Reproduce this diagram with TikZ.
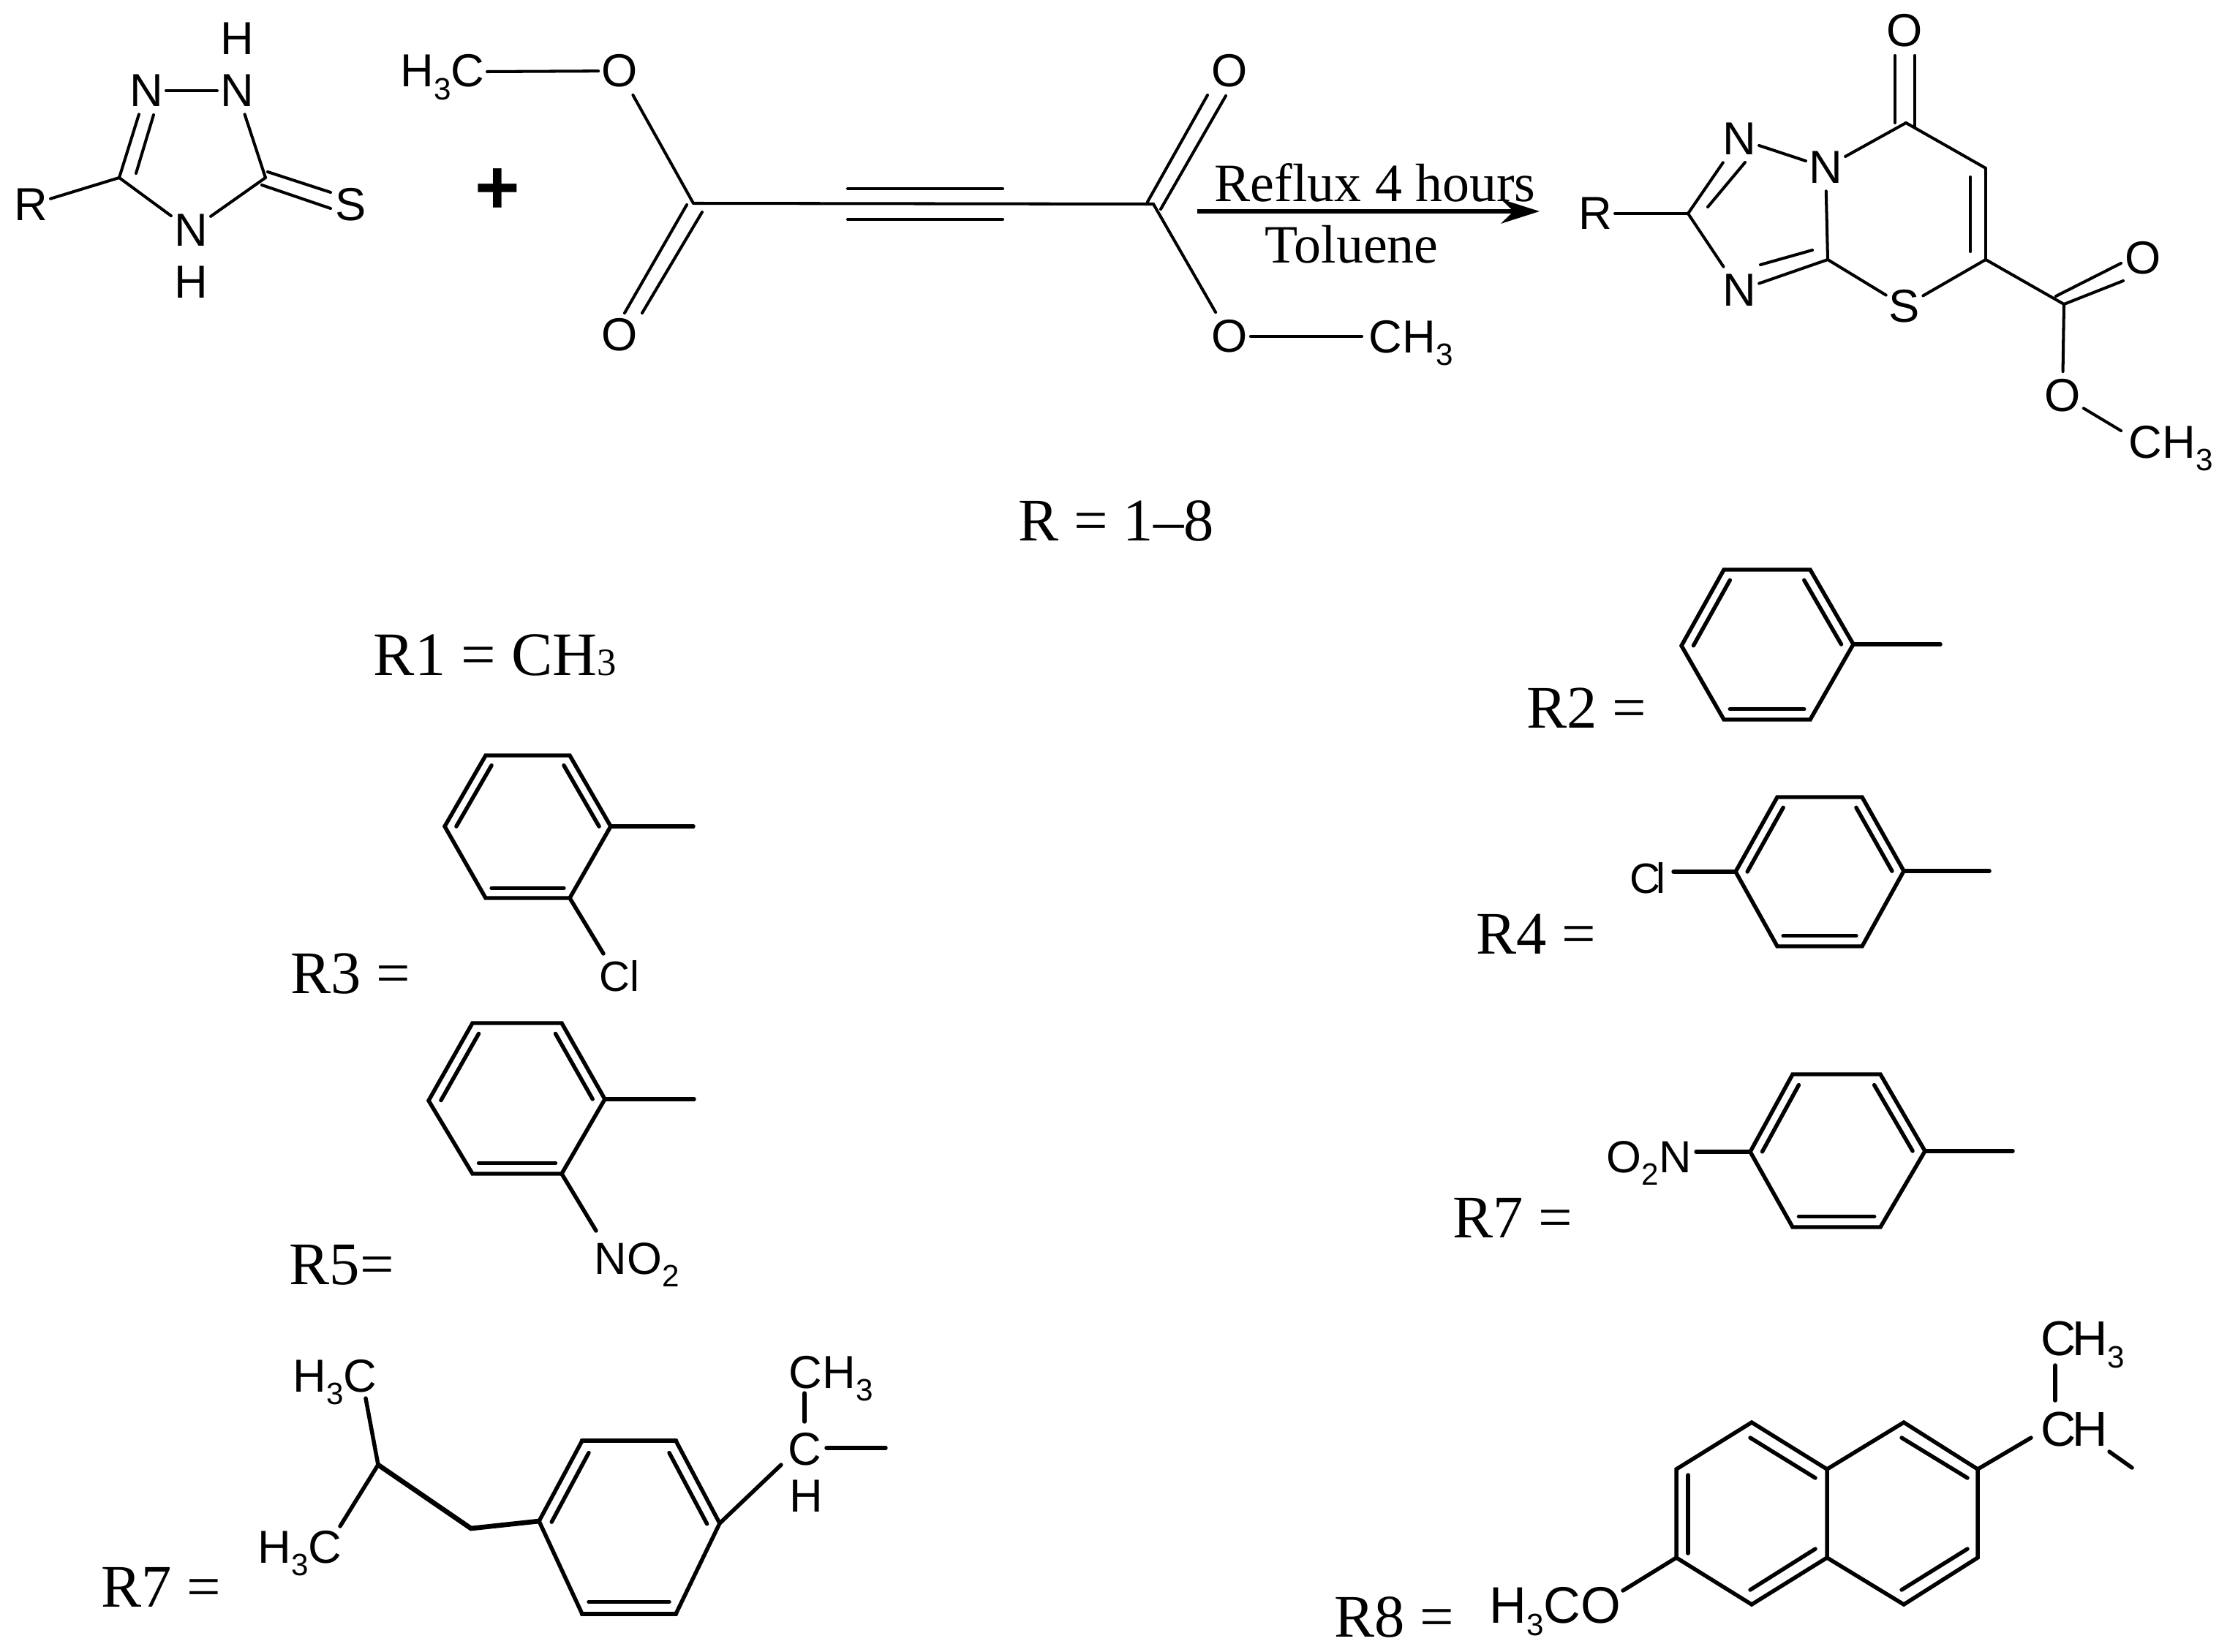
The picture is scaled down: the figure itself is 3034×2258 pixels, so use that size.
\documentclass[tikz,border=0pt]{standalone}
\usepackage{fontspec}
\setmainfont{Liberation Serif}
\newfontfamily\chem{Liberation Sans}
\usetikzlibrary{calc,arrows.meta}
\newcommand\vx[2]{\coordinate (#1) at (#2);}
\newcommand\sbs[2][12]{\raisebox{-5pt}{\fontsize{#1}{#1}\selectfont #2}}
\tikzset{
  bondt/.style={line width=1.15pt,line cap=round,draw=black},
  bondb/.style={line width=1.55pt,line cap=round,line join=miter,draw=black},
  bondx/.style={line width=1.9pt,line cap=round,line join=miter,draw=black},
  atomt/.style={font=\chem\fontsize{18}{18}\selectfont,inner xsep=1pt,inner ysep=2.8pt},
  grp/.style={font=\chem\fontsize{18}{18}\selectfont,inner sep=0pt,anchor=base west},
  grpb/.style={font=\chem\fontsize{17.5}{17.5}\selectfont,inner sep=0pt,anchor=base west},
  rlab/.style={font=\fontsize{23.5}{23.5}\selectfont,inner sep=0pt,anchor=base west},
  cond/.style={font=\fontsize{21}{21}\selectfont,inner sep=0pt,anchor=base},
}
% ring: top-left, top-right, right, bottom-right, bottom-left, left
\newcommand\benz[7]{%
  \vx{#1a}{#2}\vx{#1b}{#3}\vx{#1c}{#4}\vx{#1d}{#5}\vx{#1e}{#6}\vx{#1f}{#7}
  \coordinate (#1o) at ($(#1a)!.5!(#1d)$);
  \draw[bondb] (#1a) -- (#1b) -- (#1c) -- (#1d) -- (#1e) -- (#1f) -- cycle;
  \draw[bondb] ($(#1a)!.14!(#1o)$) -- ($(#1f)!.14!(#1o)$);
  \draw[bondb] ($(#1b)!.14!(#1o)$) -- ($(#1c)!.14!(#1o)$);
  \draw[bondb] ($(#1d)!.14!(#1o)$) -- ($(#1e)!.14!(#1o)$);
}
\begin{document}
\begin{tikzpicture}[x=0.01cm,y=-0.01cm]
\useasboundingbox (0,0) rectangle (3034,2258);

% ---------- triazole thione
\node[atomt] (tn1) at (200,124) {N};
\node[atomt] (tn2) at (324,124) {N};
\node[atomt] (th1) at (324,53) {H};
\node[atomt] (tn3) at (261,315) {N};
\node[atomt] (th2) at (261,386) {H};
\node[atomt] (tr) at (42,280) {R};
\node[atomt] (ts) at (480,280) {S};
\vx{tc1}{163,243}\vx{tc2}{363,243}
\draw[bondt] (tn1) -- (tn2);
\draw[bondt] (tr) -- (tc1);
\draw[bondt] (tc1) -- (tn1);
\vx{ti1}{186,237}\vx{ti2}{210,157}
\draw[bondt] (ti1) -- (ti2);
\draw[bondt] (tn2) -- (tc2);
\draw[bondt] (tc1) -- (tn3);
\draw[bondt] (tc2) -- (tn3);
\vx{ts1}{366,235}\vx{ts2}{452,263}\vx{ts3}{358,253}\vx{ts4}{452,285}
\draw[bondt] (ts1) -- (ts2);
\draw[bondt] (ts3) -- (ts4);

\node[inner sep=0pt,font=\chem\bfseries\fontsize{30}{30}\selectfont] (plus) at (680,262) {+};

% ---------- dimethyl acetylenedicarboxylate
\node[grp] (dh3c) at (547,119) {H\sbs{3}C};
\vx{dm1}{666,98}
\node[atomt] (do1) at (847,97) {O};
\draw[bondt] (dm1) -- (do1);
\vx{dc1}{948,278}
\draw[bondt] (do1) -- (dc1);
\node[atomt] (do2) at (847,458) {O};
\vx{dd1}{939,280}\vx{dd2}{854,428}\vx{dd3}{960,290}\vx{dd4}{878,428}
\draw[bondt] (dd1) -- (dd2);
\draw[bondt] (dd3) -- (dd4);
\vx{dc2}{1577,279}
\draw[bondt] (dc1) -- (dc2);
\vx{dt1}{1159,258}\vx{dt2}{1371,258}\vx{dt3}{1159,300}\vx{dt4}{1371,300}
\draw[bondt] (dt1) -- (dt2);
\draw[bondt] (dt3) -- (dt4);
\node[atomt] (do3) at (1681,97) {O};
\vx{dd5}{1569,276}\vx{dd6}{1651,130}\vx{dd7}{1587,286}\vx{dd8}{1676,131}
\draw[bondt] (dd5) -- (dd6);
\draw[bondt] (dd7) -- (dd8);
\node[atomt] (do4) at (1681,460) {O};
\draw[bondt] (dc2) -- (do4);
\vx{dm2}{1862,460}
\draw[bondt] (do4) -- (dm2);
\node[grp] (dch3) at (1871,482) {CH\sbs{3}};

% ---------- arrow
\vx{arw1}{1637,289}\vx{arw2}{2105,289}
\draw[line width=1.5pt,-{Stealth[length=15pt,width=9.5pt]}] (arw1) -- (arw2);
\node[cond] (reflux) at (1880,276) {Reflux 4 hours};
\node[cond] (toluene) at (1848,360) {Toluene};

% ---------- product
\node[atomt] (po1) at (2604,42) {O};
\node[atomt] (pn1) at (2496,229) {N};
\node[atomt] (pn2) at (2378,190) {N};
\node[atomt] (pn3) at (2378,397) {N};
\node[atomt] (pr) at (2181,292) {R};
\node[atomt] (ps) at (2604,419) {S};
\node[atomt] (po2) at (2930,353) {O};
\node[atomt] (po3) at (2820,541) {O};
\node[grp] (pch3) at (2910,626) {CH\sbs{3}};
\vx{pc2}{2308,292}\vx{pc7}{2606,168}\vx{pc6}{2715,230}\vx{pc5}{2715,355}\vx{pc4}{2499,355}\vx{pc9}{2822,416}
\draw[bondt] (pr) -- (pc2);
\vx{pd1}{2591,76}\vx{pd2}{2591,168}\vx{pd3}{2618,76}\vx{pd4}{2618,175}
\draw[bondt] (pd1) -- (pd2);
\draw[bondt] (pd3) -- (pd4);
\draw[bondt] (pc2) -- (pn2);
\vx{pi1}{2335,283}\vx{pi2}{2386,222}
\draw[bondt] (pi1) -- (pi2);
\draw[bondt] (pn2) -- (pn1);
\draw[bondt] (pn1) -- (pc7);
\draw[bondt] (pc7) -- (pc6);
\draw[bondt] (pc6) -- (pc5);
\vx{pi3}{2694,242}\vx{pi4}{2694,344}
\draw[bondt] (pi3) -- (pi4);
\draw[bondt] (pc5) -- (ps);
\draw[bondt] (ps) -- (pc4);
\draw[bondt] (pc4) -- (pn1);
\draw[bondt] (pc4) -- (pn3);
\vx{pi5}{2478,342}\vx{pi6}{2407,362}
\draw[bondt] (pi5) -- (pi6);
\draw[bondt] (pc2) -- (pn3);
\draw[bondt] (pc5) -- (pc9);
\vx{pe1}{2822,416}\vx{pe2}{2903,384}\vx{pe3}{2811,405}\vx{pe4}{2900,360}
\draw[bondt] (pe1) -- (pe2);
\draw[bondt] (pe3) -- (pe4);
\draw[bondt] (pc9) -- (po3);
\vx{pm}{2900,589}
\draw[bondt] (po3) -- (pm);

% ---------- labels
\node[rlab] (rall) at (1392,739) {R = 1–8};
\node[rlab,font=\fontsize{24}{24}\selectfont] (r1) at (510,923) {R1 = CH{\fontsize{15}{15}\selectfont 3}};
\node[rlab] (r2) at (2087,995) {R2 =};
\node[rlab] (r3) at (397,1358) {R3 =};
\node[rlab] (r4) at (2018,1304) {R4 =};
\node[rlab] (r5) at (395,1756) {R5=};
\node[rlab] (r7a) at (1986,1692) {R7 =};
\node[rlab] (r7b) at (138,2197) {R7 =};
\node[rlab] (r8) at (1824,2238) {R8 =};

% ---------- R2
\benz{a}{2357,779}{2475,779}{2534,881}{2475,984}{2357,984}{2299,883}
\vx{at}{2653,881}
\draw[bondb] (ac) -- (at);

% ---------- R3
\benz{b}{664,1033}{779,1033}{835,1130}{779,1228}{664,1228}{608,1130}
\vx{bt}{948,1130}\vx{bx}{825,1304}
\draw[bondb] (bc) -- (bt);
\draw[bondb] (bd) -- (bx);
\node[grpb,font=\chem\fontsize{16.5}{16.5}\selectfont] (bcl) at (819,1355) {Cl};

% ---------- R4
\benz{c}{2430,1090}{2546,1090}{2603,1191}{2546,1294}{2430,1294}{2373,1192}
\vx{ct}{2720,1191}\vx{cx}{2288,1192}
\draw[bondb] (cc) -- (ct);
\draw[bondb] (cf) -- (cx);
\node[grpb,font=\chem\fontsize{16.5}{16.5}\selectfont] (ccl) at (2228,1221) {C\kern-.1em l};

% ---------- R5
\benz{d}{646,1399}{768,1399}{827,1503}{768,1605}{646,1605}{586,1505}
\vx{dzt}{949,1503}\vx{dzx}{815,1683}
\draw[bondb] (dc) -- (dzt);
\draw[bondb] (dd) -- (dzx);
\node[grpb] (dno) at (812,1742) {NO\sbs[12]{2}};

% ---------- R7 right
\benz{e}{2451,1469}{2571,1469}{2632,1574}{2571,1678}{2451,1678}{2393,1575}
\vx{et}{2752,1574}\vx{ex}{2319,1575}
\draw[bondb] (ec) -- (et);
\draw[bondb] (ef) -- (ex);
\node[grpb] (eno) at (2196,1603) {O\sbs[12]{2}N};

% ---------- R7 left (isobutylphenyl)
\benz{f}{796,1970}{924,1970}{984,2083}{924,2207}{796,2207}{737,2080}
\draw[bondx] (fa) -- (fb);
\draw[bondx] (fd) -- (fe);
\vx{fch2}{644,2090}\vx{fch}{517,2003}\vx{fm1}{500,1912}\vx{fm2}{465,2087}
\draw[bondx] (ff) -- (fch2) -- (fch);
\draw[bondb] (fch) -- (fm1);
\draw[bondb] (fch) -- (fm2);
\node[grp] (fh3a) at (400,1903) {H\sbs{3}C};
\node[grp] (fh3b) at (352,2137) {H\sbs{3}C};
\node[grp] (fch3) at (1078,1898) {CH\sbs{3}};
\node[atomt] (fcc) at (1100,1982) {C};
\node[atomt] (fhh) at (1102,2046) {H};
\vx{fb1}{1100,1905}\vx{fb2}{1100,1944}\vx{fb3}{1130,1980}\vx{fb4}{1211,1980}\vx{fb5}{1068,2003}
\draw[bondb] (fb1) -- (fb2);
\draw[bondb] (fb3) -- (fb4);
\draw[bondb] (fc) -- (fb5);

% ---------- R8 (methoxynaphthyl)
\vx{na}{2395,1945}\vx{nb}{2498,2009}\vx{nc}{2498,2130}\vx{nd}{2395,2194}\vx{ne}{2292,2130}\vx{nf}{2292,2009}
\vx{ng}{2603,1945}\vx{nh}{2704,2009}\vx{ni}{2704,2130}\vx{nj}{2603,2194}
\draw[bondb] (na) -- (nb) -- (nc) -- (nd) -- (ne) -- (nf) -- cycle;
\draw[bondb] (nb) -- (ng) -- (nh) -- (ni) -- (nj) -- (nc);
\vx{n1}{2308,2017}\vx{n2}{2308,2124}\vx{n3}{2393,1966}\vx{n4}{2482,2021}
\vx{n5}{2482,2118}\vx{n6}{2393,2174}\vx{n7}{2600,1966}\vx{n8}{2690,2021}
\vx{n9}{2690,2118}\vx{n10}{2600,2174}
\draw[bondb] (n1) -- (n2);
\draw[bondb] (n3) -- (n4);
\draw[bondb] (n5) -- (n6);
\draw[bondb] (n7) -- (n8);
\draw[bondb] (n9) -- (n10);
\vx{nx1}{2219,2175}\vx{nx2}{2777,1966}\vx{nx3}{2810,1867}\vx{nx4}{2810,1915}\vx{nx5}{2884,1985}\vx{nx6}{2915,2007}
\draw[bondb] (ne) -- (nx1);
\draw[bondb] (nh) -- (nx2);
\draw[bondb] (nx3) -- (nx4);
\draw[bondb] (nx5) -- (nx6);
\node[grp,font=\chem\fontsize{20}{20}\selectfont] (nh3co) at (2036,2219) {H\sbs{3}CO};
\node[grp,font=\chem\fontsize{19}{19}\selectfont] (nch) at (2790,1977) {C\kern-.08em H};
\node[grp,font=\chem\fontsize{19}{19}\selectfont] (nch3) at (2790,1853) {C\kern-.08em H\sbs{3}};
\end{tikzpicture}
\end{document}
